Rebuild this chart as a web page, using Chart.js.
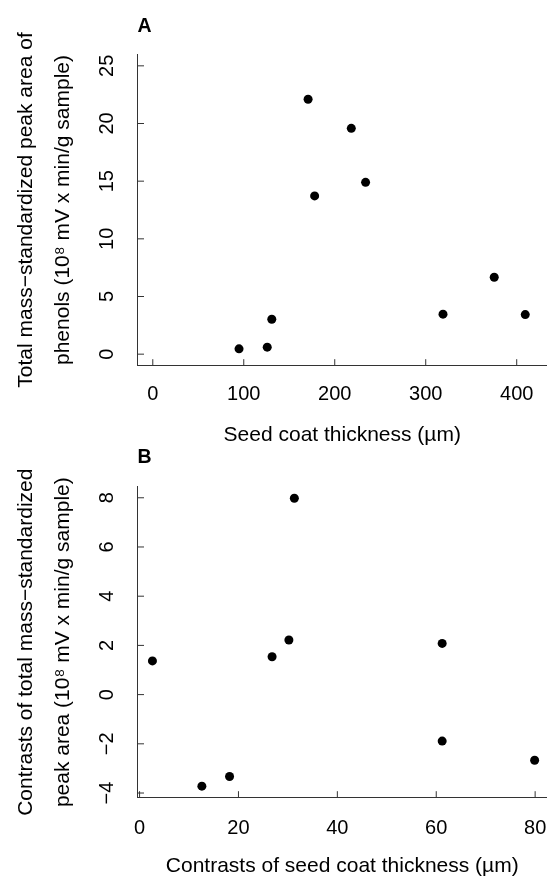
<!DOCTYPE html>
<html>
<head>
<meta charset="utf-8">
<script src="https://cdn.jsdelivr.net/npm/chart.js@4"></script>
<style>
  html, body { margin: 0; padding: 0; background: #fff; }
  body { width: 547px; height: 877px; position: relative; overflow: hidden; }
  canvas { position: absolute; left: 0; }
  #cA { top: 0; }
  #cB { top: 440px; }
</style>
</head>
<body>
<canvas id="cA" width="547" height="450"></canvas>
<canvas id="cB" width="547" height="437"></canvas>
<script>
// ---- Panel A data ----
const seedCoatThickness = [94.8, 125.8, 130.8, 170.7, 177.9, 218.2, 233.9, 319.0, 375.3, 409.4];
const phenolPeakArea    = [0.46, 0.61, 3.03, 22.1, 13.72, 19.58, 14.9, 3.47, 6.67, 3.43];
const ticksAx = [0, 100, 200, 300, 400];
const ticksAy = [0, 5, 10, 15, 20, 25];

// ---- Panel B data ----
const contrastThickness = [2.6, 12.6, 18.2, 26.8, 30.2, 31.3, 61.2, 61.2, 79.9];
const contrastPeakArea  = [1.37, -3.72, -3.33, 1.54, 2.22, 7.98, 2.08, -1.89, -2.67];
const ticksBx = [0, 20, 40, 60, 80];
const ticksBy = [-4, -2, 0, 2, 4, 6, 8];

// ---- Text ----
const titleAx = 'Seed coat thickness (\u00b5m)';
const titleAy = ['Total mass\u2212standardized peak area of', 'phenols (10\u2078 mV x min/g sample)'];
const titleBx = 'Contrasts of seed coat thickness (\u00b5m)';
const titleBy = ['Contrasts of total mass\u2212standardized', 'peak area (10\u2078 mV x min/g sample)'];

Chart.defaults.font.family = '"Liberation Sans", Arial, Helvetica, sans-serif';
Chart.defaults.color = '#000';

const FONT = '"Liberation Sans", Arial, Helvetica, sans-serif';
const AXIS_COLOR = '#333';

const inwardTicks = {
  id: 'inwardTicks',
  afterDraw(chart, args, opts) {
    const {ctx, chartArea, scales} = chart;
    const x = scales.x, y = scales.y;
    const len = 6.5;
    ctx.save();
    ctx.strokeStyle = AXIS_COLOR;
    ctx.lineWidth = 1;
    ctx.beginPath();
    x.ticks.forEach(t => {
      const px = x.getPixelForValue(t.value);
      ctx.moveTo(px, chartArea.bottom);
      ctx.lineTo(px, chartArea.bottom - len);
    });
    y.ticks.forEach(t => {
      const py = y.getPixelForValue(t.value);
      ctx.moveTo(chartArea.left, py);
      ctx.lineTo(chartArea.left + len, py);
    });
    ctx.stroke();
    ctx.fillStyle = '#000';
    ctx.font = 'bold 19.5px ' + FONT;
    ctx.textAlign = 'left';
    ctx.textBaseline = 'alphabetic';
    ctx.fillText(opts.letter, chartArea.left, opts.letterY);
    ctx.restore();
  }
};

function makeChart(id, cfg) {
  return new Chart(document.getElementById(id), {
    type: 'scatter',
    data: {
      datasets: [{
        data: cfg.xs.map((v, i) => ({x: v, y: cfg.ys[i]})),
        backgroundColor: '#000',
        borderWidth: 0,
        pointRadius: 4.5,
        pointHoverRadius: 4.5
      }]
    },
    options: {
      responsive: false,
      animation: false,
      devicePixelRatio: 1,
      layout: { autoPadding: false, padding: { top: cfg.padTop, left: 0, right: 0, bottom: 0 } },
      plugins: {
        legend: { display: false },
        tooltip: { enabled: false },
        inwardTicks: { letter: cfg.letter, letterY: cfg.letterY }
      },
      scales: {
        x: {
          type: 'linear',
          min: cfg.xMin, max: cfg.xMax,
          afterBuildTicks: s => { s.ticks = cfg.xTicks.map(v => ({value: v})); },
          afterFit: s => { s.height = cfg.xAxisH; s.paddingLeft = 0; s.paddingRight = 0; },
          grid: { display: false, drawTicks: false },
          border: { display: true, color: AXIS_COLOR, width: 1 },
          ticks: {
            padding: cfg.xTickPad,
            maxRotation: 0, minRotation: 0,
            font: { size: 20 },
            color: '#000',
            callback: v => String(v).replace('-', '\u2212')
          },
          title: {
            display: true,
            text: cfg.xTitle,
            color: '#000',
            font: { size: 21, lineHeight: 1 },
            padding: { top: 0, bottom: cfg.xTitlePad }
          }
        },
        y: {
          type: 'linear',
          min: cfg.yMin, max: cfg.yMax,
          afterBuildTicks: s => { s.ticks = cfg.yTicks.map(v => ({value: v})); },
          afterFit: s => { s.width = 137.5; s.paddingTop = 0; s.paddingBottom = 0; },
          grid: { display: false, drawTicks: false },
          border: { display: true, color: AXIS_COLOR, width: 1 },
          ticks: {
            padding: cfg.yTickPad,
            minRotation: 90, maxRotation: 90,
            crossAlign: 'center',
            font: { size: 20 },
            color: '#000',
            callback: v => String(v).replace('-', '\u2212')
          },
          title: {
            display: true,
            text: cfg.yTitle,
            color: '#000',
            font: { size: 21, lineHeight: 37 / 21 },
            padding: { top: 7.6, bottom: 0 }
          }
        }
      }
    },
    plugins: [inwardTicks]
  });
}

makeChart('cA', {
  xs: seedCoatThickness, ys: phenolPeakArea,
  xTicks: ticksAx, yTicks: ticksAy,
  xMin: -16.8, xMax: 433.3, yMin: -1, yMax: 26,
  padTop: 54.3, xAxisH: 84.3,
  xTickPad: 17, yTickPad: 19, xTitlePad: 4.3,
  xTitle: titleAx, yTitle: titleAy,
  letter: 'A', letterY: 31.7
});

makeChart('cB', {
  xs: contrastThickness, ys: contrastPeakArea,
  xTicks: ticksBx, yTicks: ticksBy,
  xMin: -0.42, xMax: 82.4, yMin: -4.19, yMax: 8.45,
  padTop: 46.7, xAxisH: 79.3,
  xTickPad: 18.5, yTickPad: 18.7, xTitlePad: 0.6,
  xTitle: titleBx, yTitle: titleBy,
  letter: 'B', letterY: 23.3
});
</script>
</body>
</html>
